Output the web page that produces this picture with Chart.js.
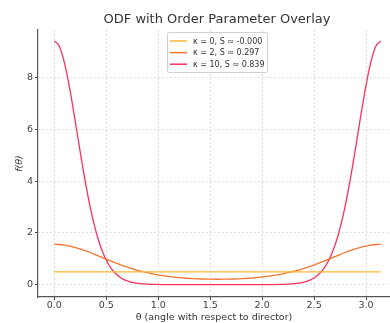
<!DOCTYPE html>
<html>
<head>
<meta charset="utf-8">
<script src="https://cdn.jsdelivr.net/npm/chart.js@4/dist/chart.umd.min.js"></script>
<style>
  html, body { margin: 0; padding: 0; background: #fff; }
  #wrap { width: 390px; height: 323px; }
</style>
</head>
<body>
<div id="wrap"><canvas id="odfChart" width="390" height="323"></canvas></div>
<script>
// theta values (rad) and ODF values
const theta = [0, 0.0491, 0.0982, 0.1473, 0.1963, 0.2454, 0.2945, 0.3436, 0.3927, 0.4418, 0.4909,
    0.5400, 0.5890, 0.6381, 0.6872, 0.7363, 0.7854, 0.8345, 0.8836, 0.9327, 0.9817, 1.0308,
    1.0799, 1.1290, 1.1781, 1.2272, 1.2763, 1.3254, 1.3744, 1.4235, 1.4726, 1.5217, 1.5708,
    1.6199, 1.6690, 1.7181, 1.7671, 1.8162, 1.8653, 1.9144, 1.9635, 2.0126, 2.0617, 2.1108,
    2.1598, 2.2089, 2.2580, 2.3071, 2.3562, 2.4053, 2.4544, 2.5035, 2.5525, 2.6016, 2.6507,
    2.6998, 2.7489, 2.7980, 2.8471, 2.8962, 2.9452, 2.9943, 3.0434, 3.0925, 3.1416];
const odfK0 = [0.5, 0.5, 0.5, 0.5, 0.5, 0.5, 0.5, 0.5, 0.5, 0.5, 0.5, 0.5, 0.5, 0.5, 0.5, 0.5, 0.5,
    0.5, 0.5, 0.5, 0.5, 0.5, 0.5, 0.5, 0.5, 0.5, 0.5, 0.5, 0.5, 0.5, 0.5, 0.5, 0.5,
    0.5, 0.5, 0.5, 0.5, 0.5, 0.5, 0.5, 0.5, 0.5, 0.5, 0.5, 0.5, 0.5, 0.5, 0.5, 0.5,
    0.5, 0.5, 0.5, 0.5, 0.5, 0.5, 0.5, 0.5, 0.5, 0.5, 0.5, 0.5, 0.5, 0.5, 0.5, 0.5];
const odfK2 = [1.5625, 1.5550, 1.5328, 1.4966, 1.4480, 1.3885, 1.3202, 1.2453, 1.1658, 1.0840, 1.0019,
    0.9210, 0.8428, 0.7684, 0.6986, 0.6340, 0.5748, 0.5212, 0.4729, 0.4300, 0.3920, 0.3588,
    0.3298, 0.3048, 0.2835, 0.2653, 0.2503, 0.2380, 0.2282, 0.2208, 0.2156, 0.2125, 0.2115,
    0.2125, 0.2156, 0.2208, 0.2282, 0.2380, 0.2503, 0.2653, 0.2835, 0.3048, 0.3298, 0.3588,
    0.3920, 0.4300, 0.4729, 0.5212, 0.5748, 0.6340, 0.6986, 0.7684, 0.8428, 0.9210, 1.0019,
    1.0840, 1.1658, 1.2453, 1.3202, 1.3885, 1.4480, 1.4966, 1.5328, 1.5550, 1.5625];
const odfK10 = [9.432, 9.208, 8.568, 7.605, 6.447, 5.226, 4.061, 3.032, 2.181, 1.516, 1.022,
    0.6711, 0.4307, 0.2714, 0.1686, 0.1037, 0.0636, 0.0389, 0.0240, 0.0149, 0.0094, 0.0060,
    0.0040, 0.0027, 0.0018, 0.0013, 0.0010, 0.0008, 0.0006, 0.0005, 0.0005, 0.0004, 0.0004,
    0.0004, 0.0005, 0.0005, 0.0006, 0.0008, 0.0010, 0.0013, 0.0018, 0.0027, 0.0040, 0.0060,
    0.0094, 0.0149, 0.0240, 0.0389, 0.0636, 0.1037, 0.1686, 0.2714, 0.4307, 0.6711, 1.022,
    1.516, 2.181, 3.032, 4.061, 5.226, 6.447, 7.605, 8.568, 9.208, 9.432];
const seriesLabels = ['κ = 0, S ≈ -0.000', 'κ = 2, S ≈ 0.297', 'κ = 10, S ≈ 0.839'];
const xTicks = [0, 0.5, 1.0, 1.5, 2.0, 2.5, 3.0];
const yTicks = [0, 2, 4, 6, 8];

const FONT = "'DejaVu Sans', sans-serif";
const colors = ['#ffb733', '#f7752f', '#f8325c'];

function toPoints(ys) {
    return theta.map((t, i) => ({ x: t, y: ys[i] }));
}

// title + legend drawn inside the plot like matplotlib
const overlayPlugin = {
    id: 'overlay',
    afterDraw(chart) {
        const ctx = chart.ctx;
        ctx.save();
        ctx.fillStyle = '#333';
        ctx.font = '13px ' + FONT;
        ctx.textAlign = 'center';
        ctx.textBaseline = 'middle';
        ctx.fillText('ODF with Order Parameter Overlay', 217, 20);

        // legend box
        const bx = 167.5, by = 32.5, bw = 100, bh = 40;
        ctx.fillStyle = 'rgba(255,255,255,0.85)';
        ctx.strokeStyle = '#d0d0d0';
        ctx.lineWidth = 1;
        ctx.beginPath();
        ctx.roundRect(bx, by, bw, bh, 2);
        ctx.fill();
        ctx.stroke();
        ctx.font = '8px ' + FONT;
        ctx.textAlign = 'left';
        chart.data.datasets.forEach((ds, i) => {
            const y = 41 + i * 11.6;
            ctx.strokeStyle = ds.borderColor;
            ctx.lineWidth = 1.5;
            ctx.beginPath();
            ctx.moveTo(170, y);
            ctx.lineTo(187, y);
            ctx.stroke();
            ctx.fillStyle = '#333';
            ctx.fillText(ds.label, 193, y + 0.5);
        });
        ctx.restore();
    }
};

const ctx = document.getElementById('odfChart');
new Chart(ctx, {
    type: 'line',
    data: {
        datasets: [odfK0, odfK2, odfK10].map((ys, i) => ({
            label: seriesLabels[i],
            data: toPoints(ys),
            borderColor: colors[i],
            backgroundColor: colors[i],
            borderWidth: 1.3,
            pointRadius: 0,
            fill: false,
            cubicInterpolationMode: 'monotone'
        }))
    },
    options: {
        responsive: false,
        animation: false,
        layout: { padding: { top: 30, right: 0, left: 0, bottom: 0 } },
        plugins: {
            legend: { display: false },
            title: { display: false },
            tooltip: { enabled: false }
        },
        scales: {
            x: {
                type: 'linear',
                min: -0.157,
                max: 3.23,
                afterBuildTicks: axis => { axis.ticks = xTicks.map(v => ({ value: v })); },
                afterFit: axis => { axis.height = 26; },
                grid: {
                    color: '#d6d6d6',
                    lineWidth: 0.8,
                    tickColor: '#444',
                    tickLength: 3,
                    tickWidth: 1
                },
                border: { color: '#555', width: 1.2, dash: [2, 2] },
                ticks: {
                    color: '#404040',
                    font: { family: FONT, size: 9.5 },
                    padding: 0,
                    maxRotation: 0,
                    callback: v => v.toFixed(1)
                },
                title: {
                    display: true,
                    text: 'θ (angle with respect to director)',
                    color: '#333',
                    font: { family: FONT, size: 9.5 },
                    padding: { top: 0, bottom: 0 }
                }
            },
            y: {
                min: -0.475,
                max: 9.85,
                afterBuildTicks: axis => { axis.ticks = yTicks.map(v => ({ value: v })); },
                afterFit: axis => { axis.width = 38; },
                grid: {
                    color: '#d6d6d6',
                    lineWidth: 0.8,
                    tickColor: '#444',
                    tickLength: 3,
                    tickWidth: 1
                },
                border: { color: '#555', width: 1.2, dash: [2, 2] },
                ticks: {
                    color: '#404040',
                    font: { family: FONT, size: 9.5 },
                    padding: 2
                },
                title: {
                    display: true,
                    text: 'f(θ)',
                    color: '#333',
                    font: { family: FONT, size: 9.5, style: 'italic' },
                    padding: { top: 14, bottom: 0 }
                }
            }
        }
    },
    plugins: [overlayPlugin]
});
</script>
</body>
</html>
